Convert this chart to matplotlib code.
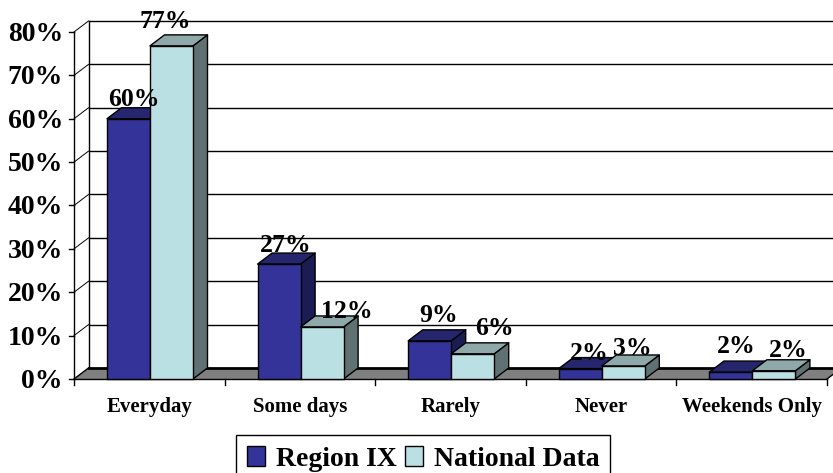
import matplotlib
matplotlib.use("Agg")
import matplotlib.pyplot as plt
from matplotlib.patches import Polygon, Patch

categories = ["Everyday", "Some days", "Rarely", "Never", "Weekends Only"]
region_ix = [60, 26.5, 8.8, 2.4, 1.6]
national = [76.8, 12, 5.8, 3, 1.9]
region_labels = ["60%", "27%", "9%", "2%", "2%"]
national_labels = ["77%", "12%", "6%", "3%", "2%"]
y_ticks = [0, 10, 20, 30, 40, 50, 60, 70, 80]

# label offsets from the bar top, in pixels (placed by hand in the original)
region_offs = [(5, 13), (7, 12), (9, 19), (9, 9), (5, 19)]
national_offs = [(-6, 18), (25, 9), (22, 19), (9, 11), (14, 14)]

W, H = 833, 473
x0, y0 = 74, 379          # pixel position of the origin
cat_px = 150.6
pct_px = 4.3375
dx = 14.5 / cat_px        # depth of the 3d effect
dy = 11 / pct_px
bar_start = 33 / cat_px
bar_w = 43 / cat_px

SERIF = "Liberation Serif"
BLUE = ("#333399", "#26266f", "#1c1c55")
LIGHT = ("#bbe0e3", "#8fa9ab", "#5f7173")

fig = plt.figure(figsize=(W / 100, H / 100), dpi=100)
ax = fig.add_axes([0, 0, 1, 1])
ax.set_xlim(-x0 / cat_px, (W - x0) / cat_px)
ax.set_ylim(-(H - y0) / pct_px, y0 / pct_px)
ax.axis("off")

n = len(categories)

# back wall, left wall
for t in y_ticks[1:]:
    ax.plot([dx, n + dx], [t + dy, t + dy], color="black", lw=1, zorder=1)
for t in y_ticks[1:]:
    ax.plot([0, dx], [t, t + dy], color="black", lw=0.7, zorder=1)
    ax.plot([-5 / cat_px, 0], [t, t], color="black", lw=1, zorder=1)
ax.plot([0, 0], [0, 80], color="black", lw=1, zorder=1)
ax.plot([dx, dx], [dy, 80 + dy], color="black", lw=1, zorder=1)

# floor
ax.add_patch(Polygon([(0, 0), (dx, dy), (n + dx, dy), (n, 0)], closed=True,
                     facecolor="#808080", edgecolor="none", zorder=2))
ax.plot([dx, n + dx], [dy, dy], color="black", lw=2, zorder=2)
ax.plot([0, n], [0, 0], color="black", lw=1, zorder=2)
ax.plot([0, dx], [0, dy], color="black", lw=1, zorder=2)
ax.plot([n, n + dx], [0, dy], color="black", lw=1, zorder=2)
for i in range(n + 1):
    ax.plot([i, i], [0, -6 / pct_px], color="black", lw=1, zorder=2)
ax.plot([-5 / cat_px, 0], [0, 0], color="black", lw=1, zorder=2)


def bar3d(x, v, cols, z):
    front, top, side = cols
    kw = dict(closed=True, edgecolor="black", lw=1, zorder=z, joinstyle="round")
    ax.add_patch(Polygon([(x + bar_w, 0), (x + bar_w + dx, dy), (x + bar_w + dx, v + dy), (x + bar_w, v)],
                         facecolor=side, **kw))
    ax.add_patch(Polygon([(x, v), (x + dx, v + dy), (x + bar_w + dx, v + dy), (x + bar_w, v)],
                         facecolor=top, **kw))
    ax.add_patch(Polygon([(x, 0), (x, v), (x + bar_w, v), (x + bar_w, 0)],
                         facecolor=front, **kw))


for i in range(n):
    bar3d(i + bar_start, region_ix[i], BLUE, 3 + i * 0.1)
    bar3d(i + bar_start + bar_w, national[i], LIGHT, 3.05 + i * 0.1)

# data labels
for i in range(n):
    for v, lab, off, start in ((region_ix[i], region_labels[i], region_offs[i], bar_start),
                               (national[i], national_labels[i], national_offs[i], bar_start + bar_w)):
        ax.annotate(lab, (i + start + bar_w / 2, v), xytext=off, textcoords="offset pixels",
                    ha="center", va="baseline", family=SERIF, weight="bold", fontsize=18.5,
                    color="black", zorder=6)

# y tick labels
for t in y_ticks:
    ax.annotate("%d%%" % t, (0, t), xytext=(-11, -9), textcoords="offset pixels",
                ha="right", va="baseline", family=SERIF, weight="bold", fontsize=20)

# category labels
for i, c in enumerate(categories):
    ax.annotate(c, (i + 0.5, 0), xytext=(0, -33), textcoords="offset pixels",
                ha="center", va="baseline", family=SERIF, weight="bold", fontsize=15)

# legend, runs off the bottom of the picture
handles = [Patch(facecolor=BLUE[0], edgecolor="black", label="Region IX"),
           Patch(facecolor=LIGHT[0], edgecolor="black", label="National Data")]
leg = ax.legend(handles=handles, ncol=2, loc="lower left",
                bbox_to_anchor=(236 / W, -10 / H), bbox_transform=fig.transFigure,
                frameon=True, fancybox=False, framealpha=1, edgecolor="black",
                prop={"family": SERIF, "weight": "bold", "size": 20},
                handlelength=0.65, handleheight=0.7, handletextpad=0.38,
                columnspacing=0.3, borderpad=0.4, borderaxespad=0)
leg.set_zorder(7)
leg.get_frame().set_linewidth(1)

fig.savefig("out.png", dpi=100)
